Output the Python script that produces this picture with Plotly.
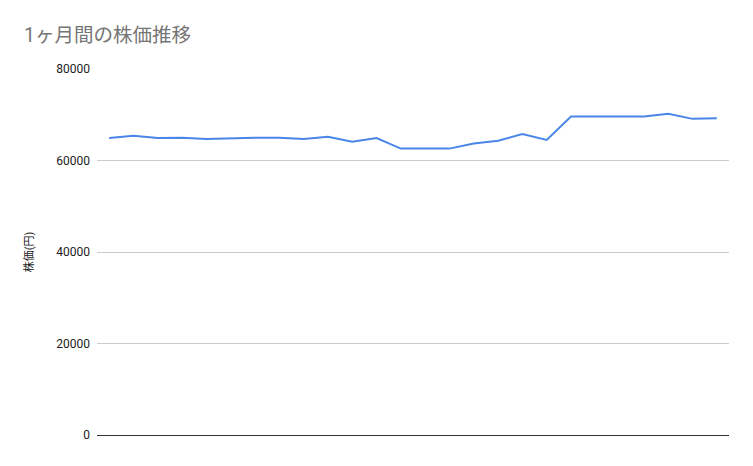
import plotly.graph_objects as go

# 1ヶ月間の株価 (26営業日)
days = list(range(26))
price = [64900, 65400, 64900, 65000, 64700, 64900, 65000, 65000, 64700, 65200,
         64100, 64900, 62600, 62600, 62600, 63700, 64300, 65800, 64500, 69600,
         69600, 69600, 69600, 70200, 69100, 69250]
y_ticks = [0, 20000, 40000, 60000, 80000]

fig = go.Figure()
fig.add_trace(go.Scatter(x=days, y=price, mode="lines",
                         line=dict(color="#4a86e8", width=2)))

# page body has an 8px margin, so the figure is sized a bit smaller
fig.update_layout(
    width=745, height=458,
    margin=dict(l=89, r=24, t=61, b=31),
    paper_bgcolor="white", plot_bgcolor="white",
    font=dict(family="Roboto, 'Noto Sans CJK JP', sans-serif", color="#222222"),
    title=dict(text="1ヶ月間の株価推移", xref="container", x=0.0215, xanchor="left",
               yref="container", y=0.941, yanchor="middle",
               font=dict(size=19.5, color="#757575",
                         family="Roboto, 'Noto Sans CJK JP', sans-serif")),
    showlegend=False,
)
fig.update_xaxes(range=[-0.5, 25.5], showticklabels=False, showgrid=False,
                 zeroline=False, showline=False, ticks="")
fig.update_yaxes(range=[0, 80000], tickvals=y_ticks, tickformat="d",
                 gridcolor="#cccccc", gridwidth=1, zeroline=True, zerolinecolor="#333333",
                 zerolinewidth=1, ticks="", ticklen=0, ticklabelstandoff=6,
                 tickfont=dict(size=12, color="#222222"),
                 title=dict(text="株価(円)", font=dict(size=11, color="#222222"), standoff=20))

fig.write_html("out.html")
